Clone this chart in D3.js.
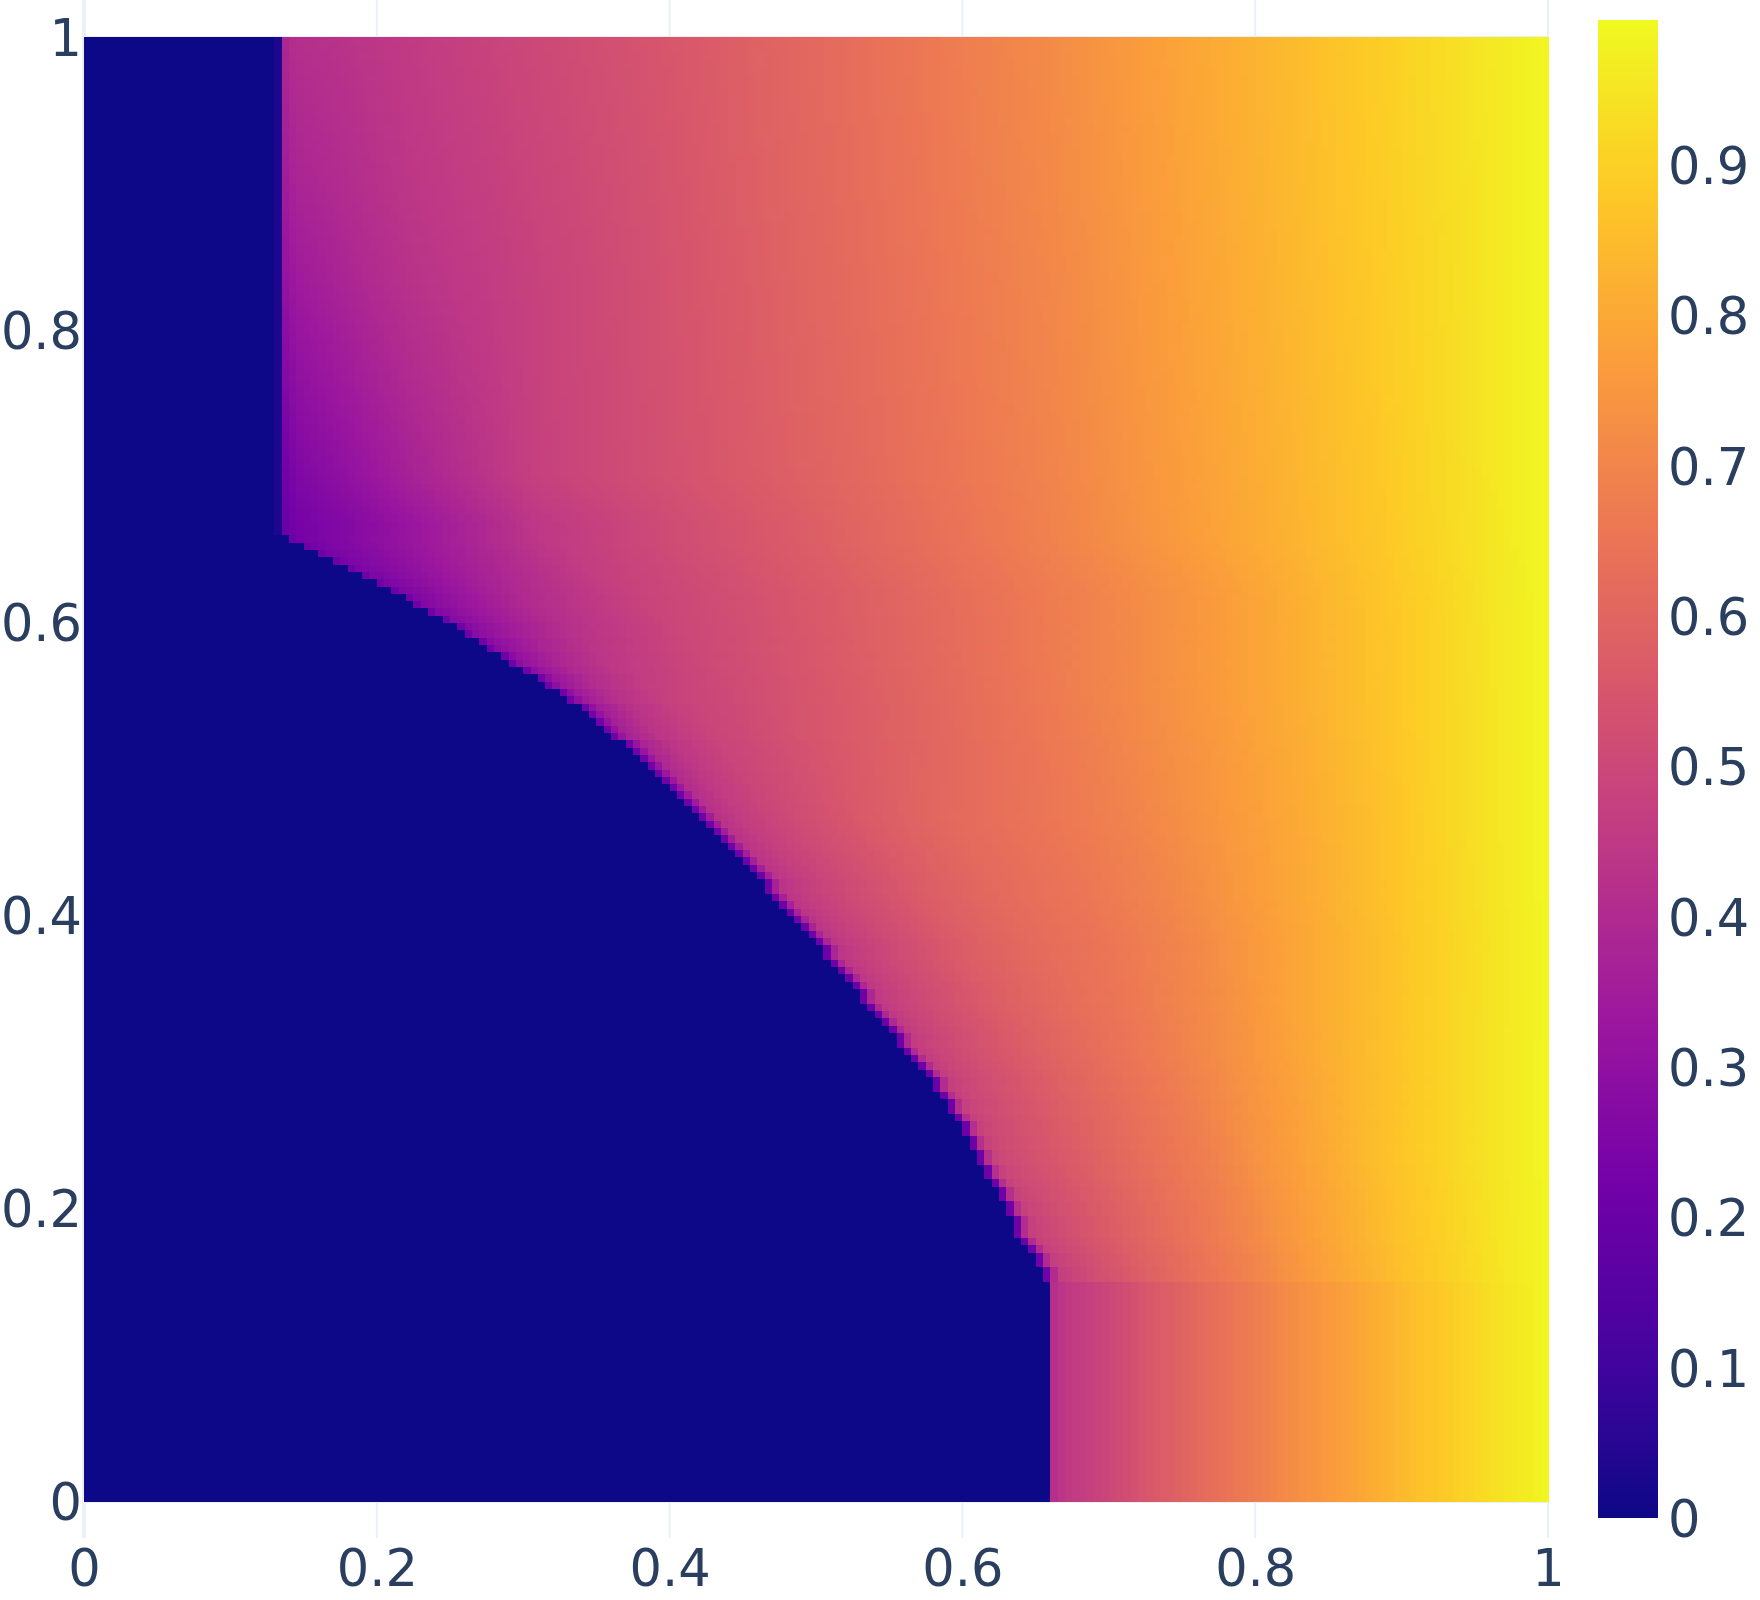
<!DOCTYPE html>
<html>
<head>
<meta charset="utf-8">
<script src="https://cdn.jsdelivr.net/npm/d3@7"></script>
<style>
  body { margin: 0; background: #ffffff; }
  svg { display: block; }
  .tick text { font-family: "DejaVu Sans", sans-serif; fill: #2a3f5f; }
</style>
</head>
<body>
<svg id="chart" width="1760" height="1600"></svg>
<script>
// ---------------- DATA ----------------
const nCols = 200;
const nRows = 200;

// number of leading zero cells in each row (row 0 = bottom, y = 0)
const zeroCount = [
  132,132,132,132,132,132,132,132,132,132,132,132,132,132,132,132,132,132,132,132,
  132,132,132,132,132,132,132,132,132,132,
  131,131,130,130,129,128,127,127,127,126,
  126,125,125,124,123,123,122,122,121,121,
  120,120,119,118,118,117,116,116,115,114,
  113,112,111,111,110,109,108,107,106,106,
  105,104,103,102,101,101,100,99,98,97,
  96,95,94,93,93,92,91,90,89,88,
  87,86,85,84,83,82,81,80,79,78,
  77,76,75,74,72,71,70,69,68,66,
  65,63,62,60,58,57,55,54,52,51,
  49,47,45,44,42,40,38,36,34,32,
  30,28,
  27,27,27,27,27,27,27,27,27,27,27,27,27,27,27,27,27,27,27,27,
  27,27,27,27,27,27,27,27,27,27,27,27,27,27,27,27,27,27,27,27,
  27,27,27,27,27,27,27,27,27,27,27,27,27,27,27,27,27,27,27,27,
  27,27,27,27,27,27,27,27
];
// faint value of the last zero cell along the upper vertical edge
const zeroEdgeValue = 0.035;

// value profiles: rows sampled at anchorY, columns at relative distance t
// from the zero boundary (t = 0 at the boundary, t = 1 at the right edge)
const profileT = [0, 0.05, 0.1, 0.2, 0.3, 0.4, 0.5, 0.6, 0.7, 0.8, 0.9, 1.0];
const anchorY  = [0, 0.1475, 0.1525, 0.24, 0.30, 0.376, 0.465, 0.55, 0.62, 0.665, 0.70, 0.76, 0.834, 0.90, 1.0];
const prof00  = [0.44,0.46,0.485,0.555,0.615,0.67,0.73,0.78,0.84,0.89,0.94,0.99];
const prof01  = [0.44,0.46,0.485,0.555,0.615,0.67,0.73,0.78,0.84,0.89,0.94,0.99];
const prof02  = [0.44,0.48,0.52,0.58,0.635,0.685,0.745,0.80,0.855,0.90,0.945,0.99];
const prof03  = [0.44,0.51,0.535,0.585,0.635,0.68,0.745,0.795,0.855,0.90,0.945,0.99];
const prof04  = [0.43,0.49,0.525,0.58,0.63,0.675,0.73,0.785,0.84,0.89,0.94,0.99];
const prof05  = [0.41,0.47,0.51,0.575,0.62,0.655,0.70,0.76,0.815,0.875,0.93,0.99];
const prof06  = [0.40,0.465,0.505,0.567,0.617,0.65,0.69,0.745,0.80,0.86,0.925,0.99];
const prof07  = [0.30,0.42,0.475,0.525,0.57,0.62,0.67,0.725,0.785,0.85,0.915,0.99];
const prof08  = [0.24,0.32,0.39,0.48,0.53,0.58,0.635,0.69,0.755,0.83,0.905,0.99];
const prof09  = [0.22,0.26,0.315,0.44,0.51,0.565,0.625,0.685,0.755,0.828,0.903,0.99];
const prof10  = [0.24,0.30,0.365,0.475,0.53,0.58,0.635,0.69,0.76,0.83,0.905,0.99];
const prof11  = [0.28,0.34,0.395,0.478,0.532,0.585,0.64,0.695,0.765,0.835,0.908,0.99];
const prof12  = [0.33,0.38,0.425,0.48,0.535,0.59,0.645,0.70,0.77,0.84,0.91,0.99];
const prof13  = [0.37,0.405,0.44,0.49,0.54,0.595,0.65,0.707,0.775,0.844,0.913,0.99];
const prof14  = [0.41,0.43,0.455,0.503,0.548,0.60,0.656,0.713,0.781,0.848,0.916,0.99];
// values of the first and second non-zero cell of a row (the thin edge), per anchor row
const edgeCell0 = [0.42,0.42,0.22,0.21,0.21,0.21,0.22,0.22,0.21,0.20,0.22,0.26,0.31,0.35,0.39];
const edgeCell1 = [0.44,0.44,0.40,0.42,0.40,0.38,0.35,0.30,0.26,0.22,0.24,0.28,0.33,0.37,0.41];

const zMin = 0;
const zMax = 0.9965;
const plasmaStops = ['#0d0887','#46039f','#7201a8','#9c179e','#bd3786','#d8576b','#ed7953','#fb9f3a','#fdca26','#f0f921'];

const xTickValues = [0, 0.2, 0.4, 0.6, 0.8, 1];
const xTickLabels = ["0", "0.2", "0.4", "0.6", "0.8", "1"];
const yTickValues = [0, 0.2, 0.4, 0.6, 0.8, 1];
const yTickLabels = ["0", "0.2", "0.4", "0.6", "0.8", "1"];
const cbTickValues = [0, 0.1, 0.2, 0.3, 0.4, 0.5, 0.6, 0.7, 0.8, 0.9];
const cbTickLabels = ["0", "0.1", "0.2", "0.3", "0.4", "0.5", "0.6", "0.7", "0.8", "0.9"];

// ---------------- build the cell table ----------------
const profiles = [prof00,prof01,prof02,prof03,prof04,prof05,prof06,prof07,prof08,prof09,prof10,prof11,prof12,prof13,prof14];
const tScales = profiles.map(p => d3.scaleLinear().domain(profileT).range(p).clamp(true));
const minZero = d3.min(zeroCount);

const cells = [];
for (let i = 0; i < nRows; i++) {
  const yc = (i + 0.5) / nRows;
  let k = d3.bisectRight(anchorY, yc) - 1;
  k = Math.max(0, Math.min(anchorY.length - 2, k));
  const w = (yc - anchorY[k]) / (anchorY[k + 1] - anchorY[k]);
  const zc = zeroCount[i];
  const b = zc / nCols;
  const e0 = edgeCell0[k] * (1 - w) + edgeCell0[k + 1] * w;
  const e1 = edgeCell1[k] * (1 - w) + edgeCell1[k + 1] * w;
  for (let j = 0; j < nCols; j++) {
    let v;
    if (j < zc) {
      v = (zc === minZero && j === zc - 1) ? zeroEdgeValue : 0;
    } else {
      const t = ((j + 0.5) / nCols - b) / (1 - b);
      v = tScales[k](t) * (1 - w) + tScales[k + 1](t) * w;
      if (j - zc === 0) v = Math.min(v, e0);
      else if (j - zc === 1) v = Math.min(v, e1);
    }
    cells.push({ i, j, v });
  }
}

// ---------------- drawing ----------------
const svg = d3.select("#chart");
const pLeft = 84, pRight = 1548, pTop = 37, pBottom = 1501;
const x = d3.scaleLinear().domain([0, 1]).range([pLeft, pRight]);
const y = d3.scaleLinear().domain([0, 1]).range([pBottom, pTop]);
const yPlotTop = y(1.0253), yPlotBottom = y(-0.0253);

const color = d3.scaleLinear()
  .domain(plasmaStops.map((_, i) => zMin + (zMax - zMin) * i / (plasmaStops.length - 1)))
  .range(plasmaStops)
  .interpolate(d3.interpolateRgb)
  .clamp(true);

// grid
const grid = svg.append("g");
grid.selectAll("line.vx").data(xTickValues).join("line")
  .attr("x1", d => x(d)).attr("x2", d => x(d))
  .attr("y1", yPlotTop).attr("y2", yPlotBottom)
  .attr("stroke", "#ebf0f8").attr("stroke-width", d => d === 0 ? 4 : 2);
grid.selectAll("line.hy").data(yTickValues).join("line")
  .attr("x1", pLeft).attr("x2", pRight)
  .attr("y1", d => y(d)).attr("y2", d => y(d))
  .attr("stroke", "#ebf0f8").attr("stroke-width", d => d === 0 ? 4 : 2);

// heatmap cells
const cw = 1 / nCols, ch = 1 / nRows;
svg.append("g").attr("shape-rendering", "crispEdges")
  .selectAll("rect").data(cells).join("rect")
  .attr("x", d => x(d.j * cw))
  .attr("y", d => y((d.i + 1) * ch))
  .attr("width", d => x((d.j + 1) * cw) - x(d.j * cw) + 0.5)
  .attr("height", d => y(d.i * ch) - y((d.i + 1) * ch) + 0.5)
  .attr("fill", d => color(d.v));

// axes
const fontSize = 51;
const xAxis = svg.append("g").attr("transform", `translate(0,${yPlotBottom})`)
  .call(d3.axisBottom(x).tickValues(xTickValues).tickFormat((d, i) => xTickLabels[i]).tickSize(0).tickPadding(12));
xAxis.select(".domain").remove();
xAxis.selectAll("text").attr("font-size", fontSize);

const yAxis = svg.append("g").attr("transform", `translate(${pLeft},0)`)
  .call(d3.axisLeft(y).tickValues(yTickValues).tickFormat((d, i) => yTickLabels[i]).tickSize(0).tickPadding(2));
yAxis.select(".domain").remove();
yAxis.selectAll("text").attr("font-size", fontSize).attr("dy", "0.36em");

// colorbar
const cbLeft = 1598, cbRight = 1658, cbTop = 20, cbBottom = 1518;
const cb = d3.scaleLinear().domain([zMin, zMax]).range([cbBottom, cbTop]);
const defs = svg.append("defs");
const grad = defs.append("linearGradient").attr("id", "cbgrad")
  .attr("x1", 0).attr("y1", 1).attr("x2", 0).attr("y2", 0);
grad.selectAll("stop").data(d3.range(0, 41)).join("stop")
  .attr("offset", d => d / 40)
  .attr("stop-color", d => color(zMin + (zMax - zMin) * d / 40));
svg.append("rect").attr("x", cbLeft).attr("y", cbTop)
  .attr("width", cbRight - cbLeft).attr("height", cbBottom - cbTop)
  .attr("fill", "url(#cbgrad)");
const cAxis = svg.append("g").attr("transform", `translate(${cbRight},0)`)
  .call(d3.axisRight(cb).tickValues(cbTickValues).tickFormat((d, i) => cbTickLabels[i]).tickSize(0).tickPadding(10));
cAxis.select(".domain").remove();
cAxis.selectAll("text").attr("font-size", fontSize).attr("dy", "0.36em");
</script>
</body>
</html>
